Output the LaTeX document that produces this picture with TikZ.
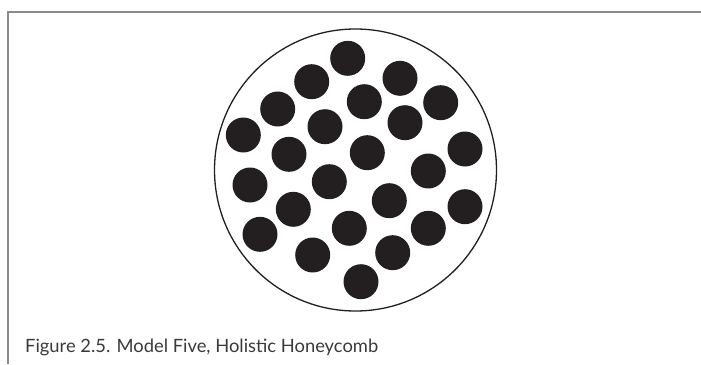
\documentclass[tikz,border=0pt]{standalone}
\usepackage{fontspec}
\setmainfont{Lato}
\begin{document}
\begin{tikzpicture}[x=1pt,y=-1pt,
  dot/.style={circle,fill=dotc,draw=none,minimum size=35pt,inner sep=0pt},
  framel/.style={draw=framec,line width=2pt}]
\definecolor{dotc}{HTML}{231F20}
\definecolor{framec}{HTML}{8A8A8A}
\definecolor{textc}{HTML}{3A3A3A}
\useasboundingbox (0,0) rectangle (701,364);
\coordinate (tl) at (7.5,12);
\coordinate (tr) at (701,12);
\coordinate (bl) at (7.5,364);
\draw[framel] (tr) -- (tl) -- (bl);
\node[circle,draw=dotc,line width=1.3pt,minimum size=282pt,inner sep=0pt] (outer) at (355.5,170) {};
\foreach \x/\y [count=\i] in {
 347.7/58.3, 311.7/81.7, 400/78.3, 277.7/109, 364.3/101.7, 440.7/102.7,
 243.3/135, 325/126.7, 405/122.7, 289/154.3, 367.3/152.7, 465/149,
 250/185, 329.3/181.7, 428.3/171, 293.3/209.3, 389.3/200.7, 465/206.7,
 260/234.3, 349.3/228.3, 428.3/228.3, 312.7/255, 392.7/252.7, 361/281.7}
 \node[dot] (d\i) at (\x,\y) {};
\node[anchor=base west,inner sep=0pt,text=textc] (cap) at (25,352)
  {\resizebox{353pt}{!}{Figure 2.5. Model Five, Holistic Honeycomb}};
\end{tikzpicture}
\end{document}
